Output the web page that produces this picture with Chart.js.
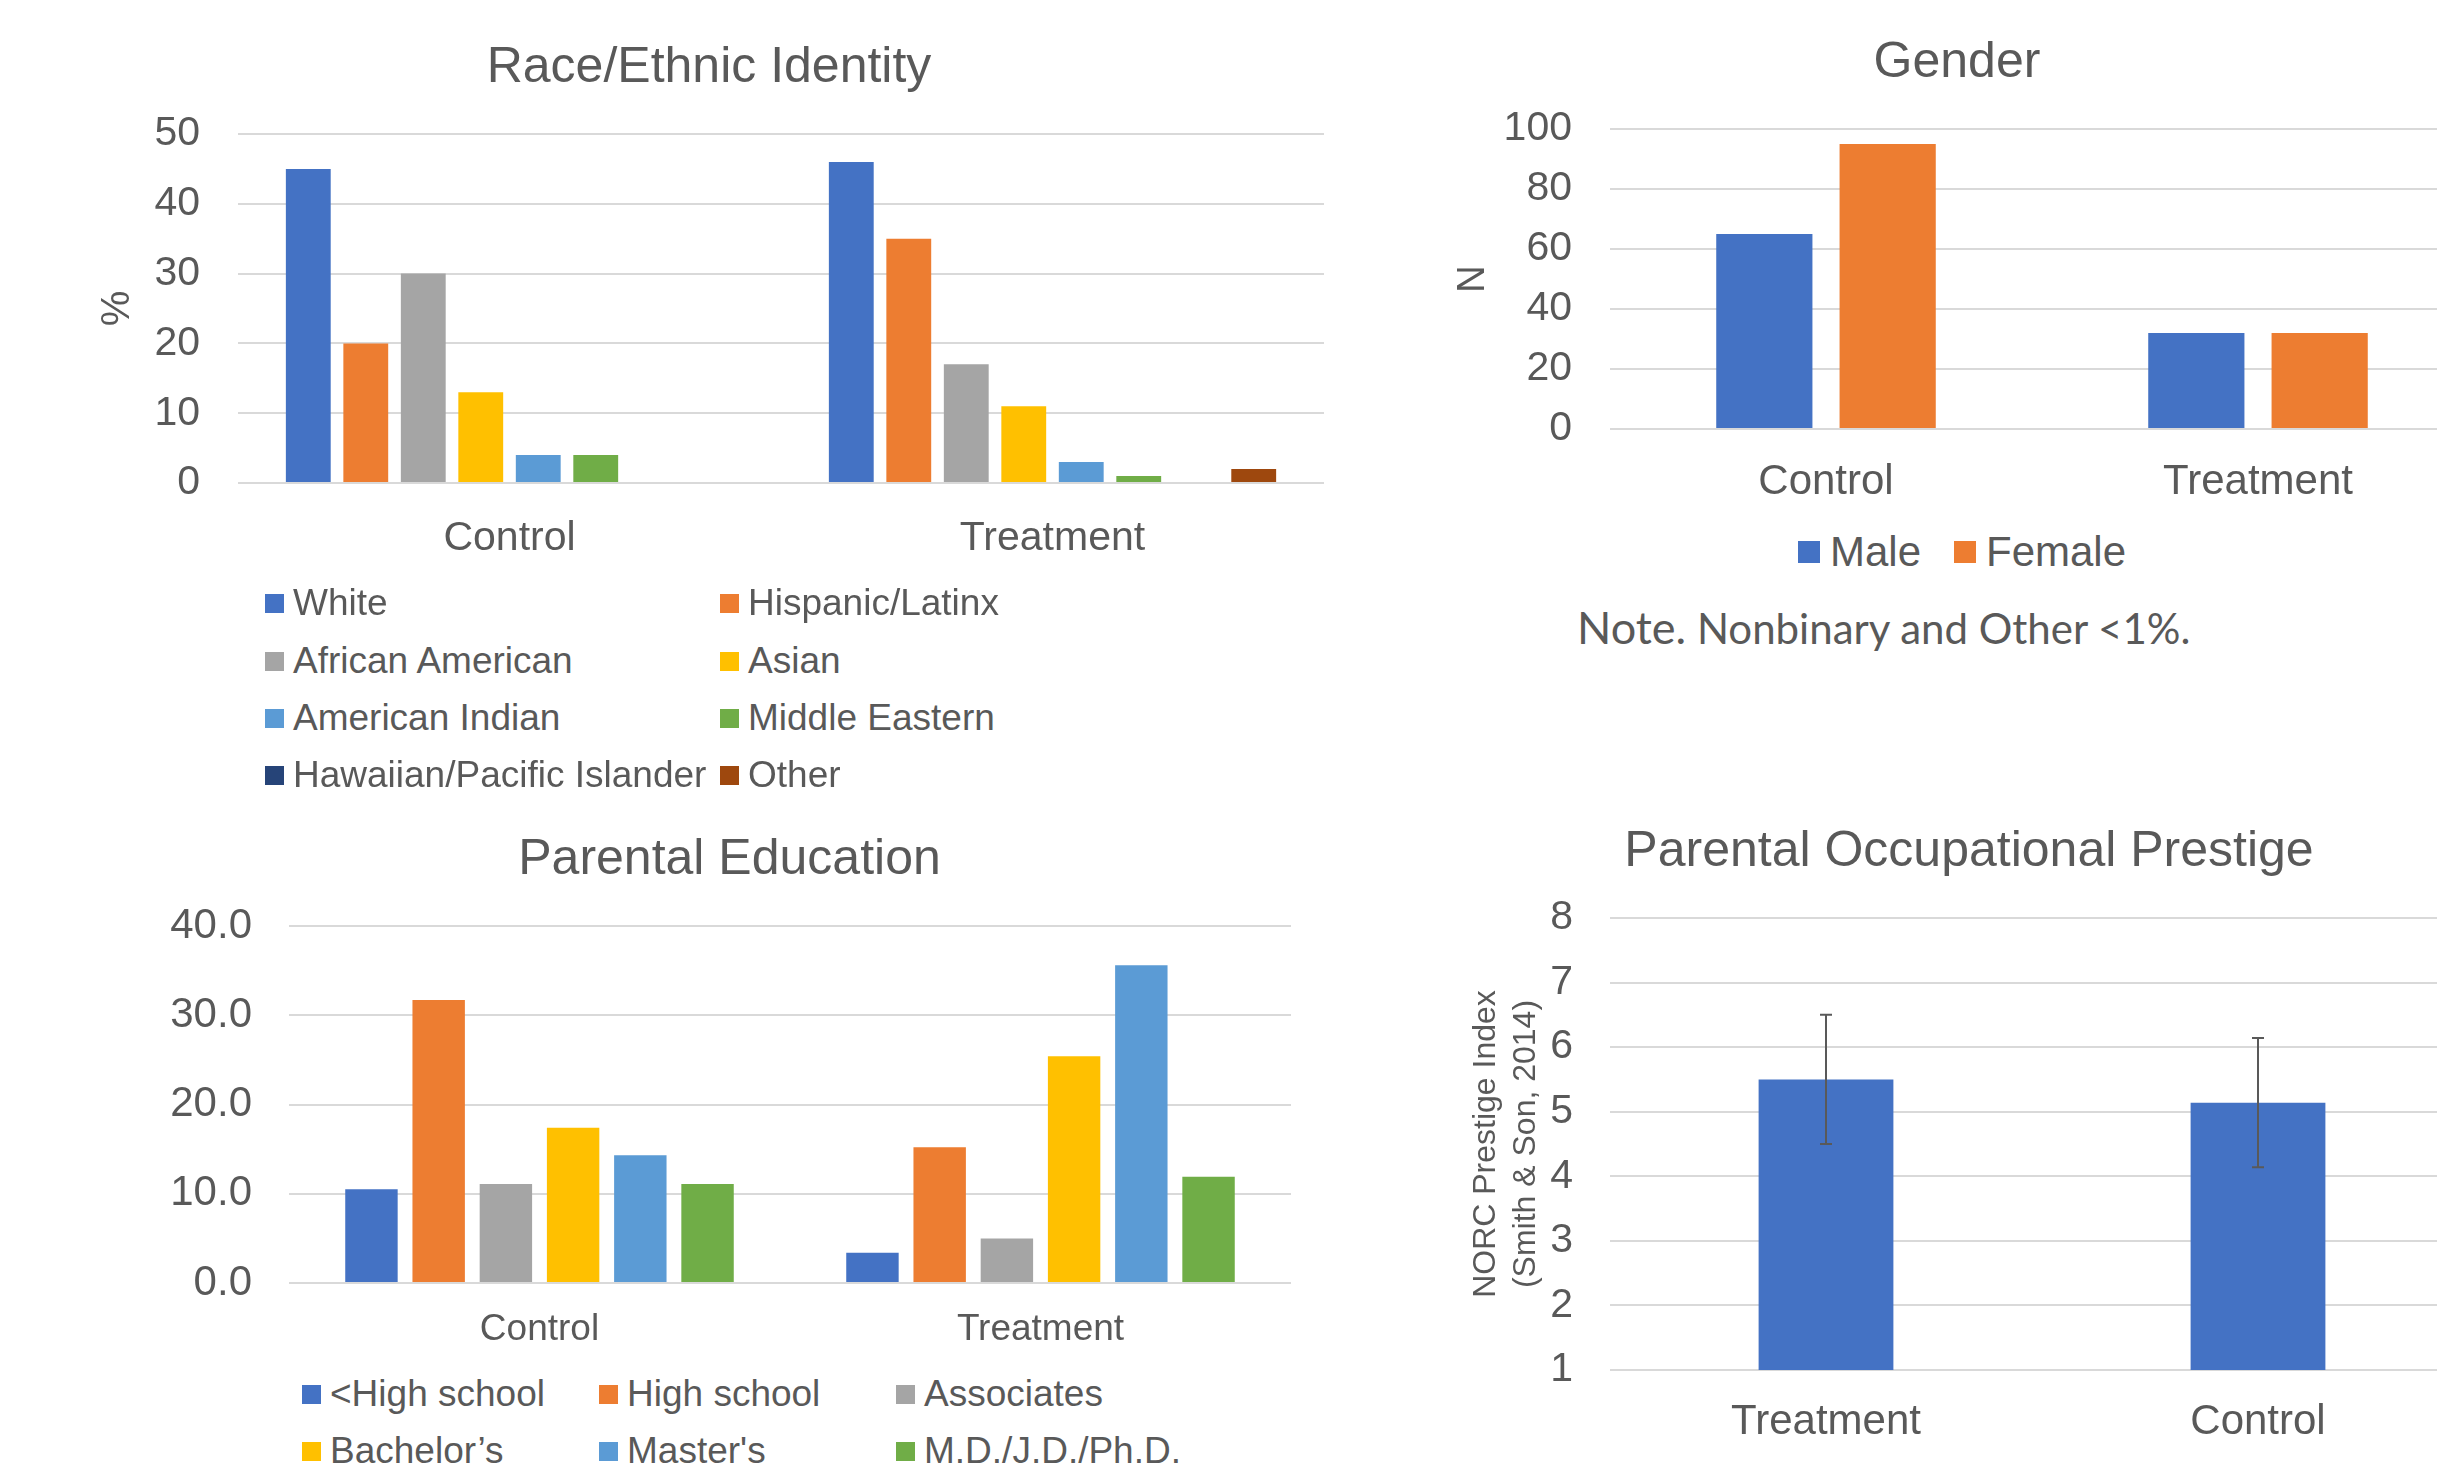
<!DOCTYPE html>
<html>
<head>
<meta charset="utf-8">
<script src="https://cdn.jsdelivr.net/npm/chart.js@4.4.1/dist/chart.umd.min.js"></script>
<style>
  html, body { margin: 0; padding: 0; background: #fff; }
  body { width: 2437px; height: 1472px; overflow: hidden; position: relative;
         font-family: "Liberation Sans", Arial, sans-serif; color: #595959; }
  canvas { position: absolute; }
  .item { position: absolute; height: 50px; display: flex; align-items: center; white-space: nowrap; }
  .sw { display: inline-block; flex: none; }
  #note { position: absolute; left: 1577px; top: 600px; white-space: nowrap; font-family: Lato, "Liberation Sans", sans-serif; }
</style>
</head>
<body>
<canvas id="raceChart" width="1340" height="600" style="left:0px;top:0px"></canvas>
<canvas id="genderChart" width="1034" height="520" style="left:1440px;top:0px"></canvas>
<canvas id="eduChart" width="1142" height="560" style="left:168px;top:790px"></canvas>
<canvas id="prestigeChart" width="1034" height="692" style="left:1440px;top:780px"></canvas>
<div id="raceLegend"></div>
<div id="genderLegend"></div>
<div id="eduLegend"></div>
<div id="note"><span style="font-size:45px">Note.</span><span style="font-size:42px"> Nonbinary and Other &lt;1%.</span></div>

<script>
// groups
const groups = ['Control', 'Treatment'];

// Race/Ethnic Identity (%)
const raceLabels = ['White', 'Hispanic/Latinx', 'African American', 'Asian', 'American Indian',
                    'Middle Eastern', 'Hawaiian/Pacific Islander', 'Other'];
const raceControl = [45, 20, 30, 13, 4, 4, 0, 0];
const raceTreatment = [46, 35, 17, 11, 3, 1, 0, 2];
const raceColors = ['#4472C4', '#ED7D31', '#A5A5A5', '#FFC000', '#5B9BD5', '#70AD47', '#264478', '#9E480E'];

// Gender (N)
const genderLabels = ['Male', 'Female'];
const genderControl = [65, 95];
const genderTreatment = [32, 32];
const genderColors = ['#4472C4', '#ED7D31'];

// Parental Education (%)
const eduLabels = ['<High school', 'High school', 'Associates', 'Bachelor\u2019s', "Master's", 'M.D./J.D./Ph.D.'];
const eduControl = [10.5, 31.7, 11.1, 17.4, 14.3, 11.1];
const eduTreatment = [3.4, 15.2, 5.0, 25.4, 35.6, 11.9];
const eduColors = ['#4472C4', '#ED7D31', '#A5A5A5', '#FFC000', '#5B9BD5', '#70AD47'];

// Parental Occupational Prestige
const prestigeGroups = ['Treatment', 'Control'];
const prestigeMeans = [5.5, 5.14];
const prestigeErr = [1.0, 1.0];

Chart.defaults.font.family = '"Liberation Sans", Arial, sans-serif';
Chart.defaults.color = '#595959';
Chart.defaults.animation = false;
Chart.defaults.responsive = false;
Chart.defaults.plugins.legend.display = false;
Chart.defaults.plugins.tooltip.enabled = false;

function makeAxes(o) {
  return {
    x: {
      grid: { display: false },
      border: { display: false },
      ticks: { font: { size: o.xFont }, padding: o.xPad, maxRotation: 0 },
      afterFit(s) { s.height = o.xH; }
    },
    y: {
      min: o.min, max: o.max,
      ticks: { stepSize: o.step, font: { size: o.yFont }, padding: o.yPad, callback: o.fmt },
      grid: { color: '#d9d9d9', lineWidth: 2, drawTicks: false },
      border: { display: false },
      title: o.yTitle,
      afterFit(s) { s.width = o.yW; }
    }
  };
}

function seriesSets(labels, a, b, colors, barPct, catPct) {
  return labels.map((lab, i) => ({
    label: lab,
    data: [a[i], b[i]],
    backgroundColor: colors[i],
    borderWidth: 0,
    barPercentage: barPct,
    categoryPercentage: catPct
  }));
}

function titleOpt(text, top, bottom) {
  return { display: true, text: text, font: { size: 50, weight: 'normal' }, color: '#595959',
           padding: { top: top, bottom: bottom } };
}

// html legend from the series names and colours
function buildLegend(id, labels, colors, cols, rows, box, gap, fontSize) {
  const el = document.getElementById(id);
  labels.forEach((lab, i) => {
    const d = document.createElement('div');
    d.className = 'item';
    d.style.left = cols[i % cols.length] + 'px';
    d.style.top = (rows[Math.floor(i / cols.length)] - 25) + 'px';
    d.style.fontSize = fontSize + 'px';
    const sw = document.createElement('span');
    sw.className = 'sw';
    sw.style.width = box + 'px';
    sw.style.height = box + 'px';
    sw.style.marginRight = gap + 'px';
    sw.style.background = colors[i];
    d.appendChild(sw);
    d.appendChild(document.createTextNode(lab));
    el.appendChild(d);
  });
}

// Race chart
new Chart(document.getElementById('raceChart'), {
  type: 'bar',
  data: { labels: groups, datasets: seriesSets(raceLabels, raceControl, raceTreatment, raceColors, 0.78, 0.847) },
  options: {
    layout: { padding: { left: 94, right: 16, top: 0, bottom: 0 } },
    plugins: { title: titleOpt('Race/Ethnic Identity', 38, 36) },
    scales: makeAxes({
      xFont: 41, xPad: 23, xH: 117,
      min: 0, max: 50, step: 10, yFont: 41, yPad: 38, yW: 144,
      yTitle: { display: true, text: '%', font: { size: 40 }, padding: { top: 0, bottom: 0 } }
    })
  }
});
buildLegend('raceLegend', raceLabels, raceColors, [265, 720], [603, 661, 718, 775], 19, 9, 37);

// Gender chart
new Chart(document.getElementById('genderChart'), {
  type: 'bar',
  data: { labels: groups, datasets: seriesSets(genderLabels, genderControl, genderTreatment, genderColors, 0.78, 0.571) },
  options: {
    layout: { padding: { left: 0, right: 0, top: 0, bottom: 0 } },
    plugins: { title: titleOpt('Gender', 33, 36) },
    scales: makeAxes({
      xFont: 42, xPad: 20, xH: 91,
      min: 0, max: 100, step: 20, yFont: 41, yPad: 38, yW: 170,
      yTitle: { display: true, text: 'N', font: { size: 38 }, padding: { top: 11, bottom: 0 } }
    })
  }
});
buildLegend('genderLegend', genderLabels, genderColors, [1798, 1954], [552], 22, 10, 42);

// Parental Education chart
new Chart(document.getElementById('eduChart'), {
  type: 'bar',
  data: { labels: groups, datasets: seriesSets(eduLabels, eduControl, eduTreatment, eduColors, 0.78, 0.805) },
  options: {
    layout: { padding: { left: 0, right: 19, top: 0, bottom: 0 } },
    plugins: { title: titleOpt('Parental Education', 40, 36) },
    scales: makeAxes({
      xFont: 37, xPad: 17, xH: 67,
      min: 0, max: 40, step: 10, yFont: 42, yPad: 37, yW: 121,
      fmt: v => Number(v).toFixed(1),
      yTitle: { display: false }
    })
  }
});
buildLegend('eduLegend', eduLabels, eduColors, [302, 599, 896], [1394, 1451], 19, 9, 37);

// error bars drawn from the value scale
const errorBars = {
  id: 'errorBars',
  afterDatasetsDraw(chart) {
    const ctx = chart.ctx;
    const y = chart.scales.y;
    const meta = chart.getDatasetMeta(0);
    ctx.save();
    ctx.strokeStyle = '#595959';
    ctx.lineWidth = 2;
    meta.data.forEach((bar, i) => {
      const top = y.getPixelForValue(prestigeMeans[i] + prestigeErr[i]);
      const bot = y.getPixelForValue(prestigeMeans[i] - prestigeErr[i]);
      ctx.beginPath();
      ctx.moveTo(bar.x, top); ctx.lineTo(bar.x, bot);
      ctx.moveTo(bar.x - 6, top); ctx.lineTo(bar.x + 6, top);
      ctx.moveTo(bar.x - 6, bot); ctx.lineTo(bar.x + 6, bot);
      ctx.stroke();
    });
    ctx.restore();
  }
};

// Parental Occupational Prestige chart
new Chart(document.getElementById('prestigeChart'), {
  type: 'bar',
  data: {
    labels: prestigeGroups,
    datasets: [{ label: 'Prestige', data: prestigeMeans, backgroundColor: '#4472C4', borderWidth: 0,
                 barPercentage: 1, categoryPercentage: 0.312 }]
  },
  options: {
    layout: { padding: { left: 24, right: 0, top: 0, bottom: 0 } },
    plugins: { title: titleOpt('Parental Occupational Prestige', 42, 36) },
    scales: makeAxes({
      xFont: 42, xPad: 19, xH: 102,
      min: 1, max: 8, step: 1, yFont: 41, yPad: 37, yW: 146,
      yTitle: { display: true, text: ['NORC Prestige Index', '(Smith & Son, 2014)'],
                font: { size: 32, lineHeight: 1.25 }, padding: { top: 2, bottom: 0 } }
    })
  },
  plugins: [errorBars]
});
</script>
</body>
</html>
